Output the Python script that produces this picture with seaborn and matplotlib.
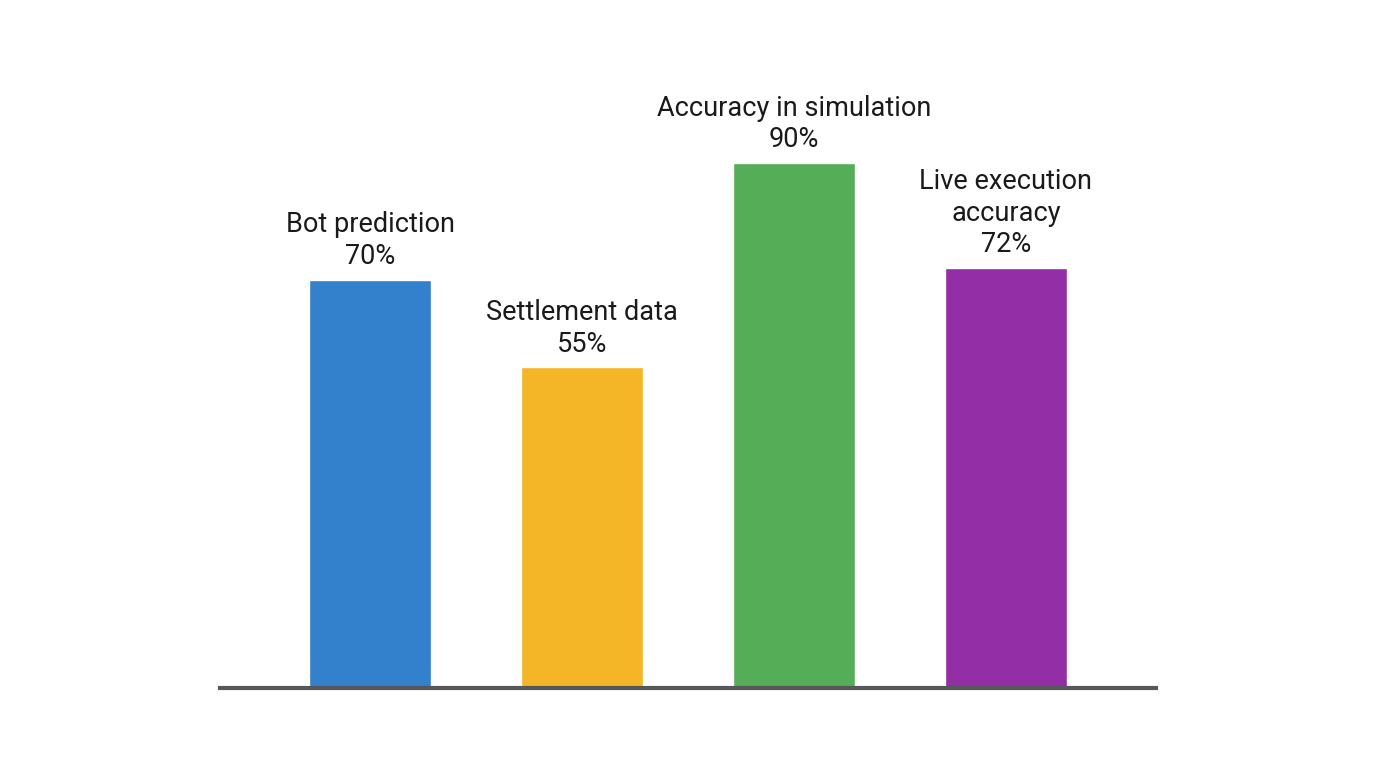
import pandas as pd
import matplotlib
matplotlib.use('Agg')
import matplotlib.pyplot as plt
import seaborn as sns

# values
categories = ['Bot prediction', 'Settlement data', 'Accuracy in simulation', 'Live execution\naccuracy']
values = [70, 55, 90, 72]
colors = ['#3380CC', '#F4B526', '#55AD58', '#932EA6']

df = pd.DataFrame({'label': categories, 'value': values})

sns.set_style('white')
plt.rcParams['font.family'] = ['Roboto', 'DejaVu Sans']

fig = plt.figure(figsize=(13.76, 7.68), dpi=100)
ax = fig.add_axes([0.16, 0.104, 0.68, 0.755])

sns.barplot(data=df, x='label', y='value', hue='label', palette=colors,
            width=0.575, saturation=1, legend=False, ax=ax)

# labels above the bars
for i, (lab, v) in enumerate(zip(categories, values)):
    ax.annotate(f'{lab}\n{v}%', xy=(i, v), xytext=(0, 7), textcoords='offset points',
                ha='center', va='bottom', fontsize=19.5, color='#1a1a1a',
                linespacing=1.22, annotation_clip=False)

ax.set_xlim(-0.708, 3.708)
ax.set_ylim(0, 99.4)
ax.set_xlabel('')
ax.set_ylabel('')
ax.set_xticks([])
ax.set_yticks([])
for s in ['top', 'right', 'left']:
    ax.spines[s].set_visible(False)
ax.spines['bottom'].set_color('#55575c')
ax.spines['bottom'].set_linewidth(3)
ax.spines['bottom'].set_zorder(5)

fig.savefig('out.png', dpi=100, facecolor='white')
